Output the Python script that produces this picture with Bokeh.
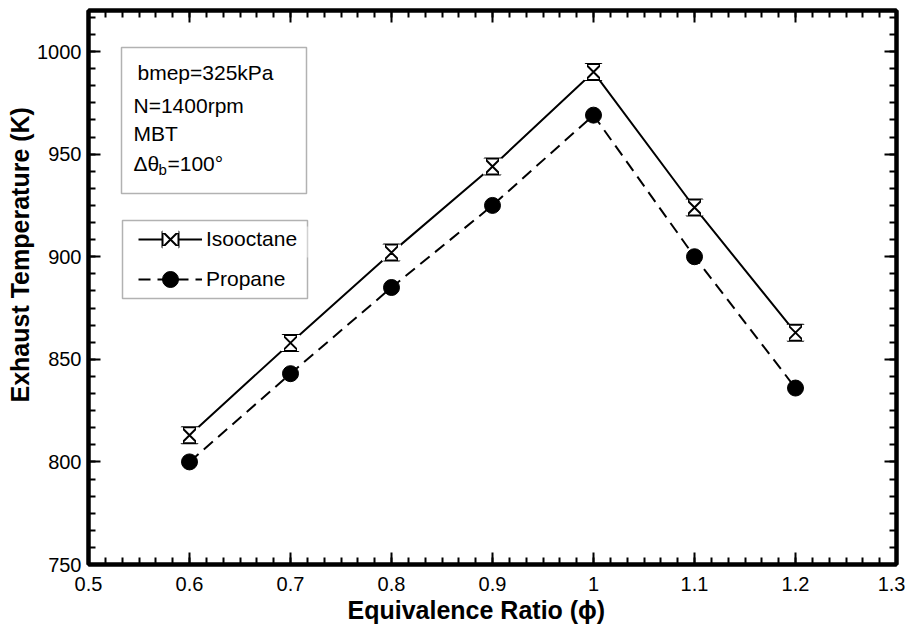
import numpy as np
from bokeh.plotting import figure
from bokeh.models import (LinearAxis, FixedTicker, PrintfTickFormatter, CustomJSTickFormatter,
                          Range1d, BoxAnnotation, Label, Legend, LegendItem, ColumnDataSource, Title)
from bokeh.embed import file_html
from bokeh.resources import INLINE

# ---- data ----
phi = [0.6, 0.7, 0.8, 0.9, 1.0, 1.1, 1.2]
isooctane = [813, 858, 902, 944, 990, 924, 863]
propane = [800, 843, 885, 925, 969, 900, 836]

x_ticks = [0.5, 0.6, 0.7, 0.8, 0.9, 1.0, 1.1, 1.2, 1.3]
y_ticks = [750, 800, 850, 900, 950, 1000]
x_lim = (0.5, 1.3)
y_lim = (750, 1020)

info_lines = ["bmep=325kPa", "N=1400rpm", "MBT"]
x_title = "Equivalence Ratio (\u03d5)"
y_title = "Exhaust Temperature (K)"

FONT = "Liberation Sans"

src = ColumnDataSource(dict(phi=phi, iso=isooctane, pro=propane))

p = figure(width=905, height=630, x_range=Range1d(*x_lim), y_range=Range1d(*y_lim),
           output_backend="svg", toolbar_location=None,
           min_border_left=88, min_border_right=9, min_border_top=10, min_border_bottom=66)
p.grid.visible = False
p.outline_line_color = "black"
p.outline_line_width = 4
p.background_fill_color = "white"

x_minor = list(np.arange(x_lim[0], x_lim[1] + 1e-9, 0.1 / 6))
y_minor = list(np.arange(y_lim[0], y_lim[1] + 1e-9, 50 / 6))


def style_axis(ax, ticks, minor, labels=True):
    ax.ticker = FixedTicker(ticks=ticks, minor_ticks=minor)
    ax.axis_line_width = 4
    ax.axis_line_color = "black"
    ax.major_tick_in = 12
    ax.major_tick_out = 0
    ax.minor_tick_in = 7
    ax.minor_tick_out = 0
    ax.major_tick_line_width = 2
    ax.minor_tick_line_width = 2
    ax.major_label_text_font = FONT
    ax.major_label_text_font_size = "20px"
    ax.major_label_text_color = "black"
    ax.major_label_standoff = 7
    if labels:
        ax.formatter = PrintfTickFormatter(format="%g")
    else:
        ax.formatter = CustomJSTickFormatter(code="return ''")
        ax.major_label_standoff = 0
        ax.major_label_text_font_size = "1px"


xb = p.below[0]
yl = p.left[0]
style_axis(xb, x_ticks, x_minor)
style_axis(yl, y_ticks, y_minor)
xb.major_label_standoff = 12

xt = LinearAxis()
style_axis(xt, x_ticks, x_minor, labels=False)
p.add_layout(xt, "above")
yr = LinearAxis()
style_axis(yr, y_ticks, y_minor, labels=False)
p.add_layout(yr, "right")

# axis titles, positioned like the reference (slightly off-centre)
p.add_layout(Title(text=y_title, align="left", offset=162, standoff=2,
                   text_font=FONT, text_font_style="bold", text_font_size="25px",
                   text_color="black"), "left")
p.add_layout(Title(text=x_title, align="left", offset=259, standoff=0,
                   text_font=FONT, text_font_style="bold", text_font_size="25px",
                   text_color="black"), "below")

# ---- series ----
MS = 16
r_iso_line = p.line("phi", "iso", source=src, line_color="black", line_width=2)
r_pro_line = p.line("phi", "pro", source=src, line_color="black", line_width=2, line_dash="12 7")

r_iso_sqx = p.scatter("phi", "iso", source=src, marker="square_x", size=MS, fill_color="white",
                      line_color="black", line_width=2)
# white dashed square rotated 90 deg hides the two vertical sides -> hourglass
r_iso_mask = p.scatter("phi", "iso", source=src, marker="square", size=MS, fill_color=None,
                       line_color="white", line_width=3, line_dash=f"{MS} {MS}",
                       angle=np.pi / 2)
r_pro_dot = p.scatter("phi", "pro", source=src, marker="circle", size=MS, fill_color="black",
                      line_color="black")

# ---- info box ----
p.add_layout(BoxAnnotation(left=33, right=218, top=517, bottom=371,
                           left_units="screen", right_units="screen",
                           top_units="screen", bottom_units="screen",
                           fill_color=None, line_color="black", line_width=1.5))
for txt, xx, yy in zip(info_lines, [49, 45, 45], [492, 459, 431]):
    p.add_layout(Label(x=xx, y=yy, x_units="screen", y_units="screen", text=txt,
                       text_baseline="middle", text_font=FONT, text_font_size="21px",
                       text_color="black"))
p.add_layout(Label(x=45, y=401, x_units="screen", y_units="screen", text="\u0394\u03b8",
                   text_baseline="middle", text_font=FONT, text_font_size="21px", text_color="black"))
p.add_layout(Label(x=70, y=395, x_units="screen", y_units="screen", text="b",
                   text_baseline="middle", text_font=FONT, text_font_size="15px", text_color="black"))
p.add_layout(Label(x=79, y=401, x_units="screen", y_units="screen", text="=100\u00b0",
                   text_baseline="middle", text_font=FONT, text_font_size="21px", text_color="black"))

# ---- legend box ----
p.add_layout(BoxAnnotation(left=34, right=219, top=344, bottom=266,
                           left_units="screen", right_units="screen",
                           top_units="screen", bottom_units="screen",
                           fill_color=None, line_color="black", line_width=1.5))
p.add_layout(BoxAnnotation(left=216, right=222, top=338, bottom=307,
                           left_units="screen", right_units="screen",
                           top_units="screen", bottom_units="screen",
                           fill_color="white", line_color=None))

legend = Legend(items=[LegendItem(label="Isooctane", renderers=[r_iso_line, r_iso_sqx, r_iso_mask]),
                       LegendItem(label="Propane", renderers=[r_pro_line, r_pro_dot])],
                location=(50, 265), glyph_width=64, glyph_height=40, spacing=0, padding=0,
                label_standoff=4, label_text_font=FONT, label_text_font_size="21px",
                label_text_color="black", border_line_color=None, background_fill_alpha=0)
p.add_layout(legend)

open("out.html", "w").write(file_html(p, INLINE))
